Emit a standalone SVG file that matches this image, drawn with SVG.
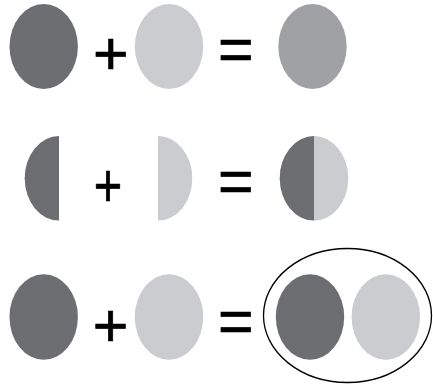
<svg xmlns="http://www.w3.org/2000/svg" width="433" height="385" viewBox="0 0 433 385">
<style>
.dark{fill:#6d6e72}
.light{fill:#cbcccf}
.mid{fill:#a0a1a5}
.op{font-family:"Liberation Sans",Arial,sans-serif;font-size:61px;fill:#000;stroke:#000;stroke-width:0.7;text-anchor:middle}
.ring{fill:none;stroke:#000;stroke-width:1.3}
</style>
<rect width="433" height="385" fill="#fff"/>
<g id="row1">
  <ellipse id="r1-dark" class="dark" cx="43.7" cy="46.5" rx="34.2" ry="42.5"/>
  <text id="r1-plus" class="op" x="110.7" y="73.5">+</text>
  <ellipse id="r1-light" class="light" cx="169" cy="46.5" rx="34.2" ry="42.5"/>
  <text id="r1-eq" class="op" x="235.8" y="69.8">=</text>
  <ellipse id="r1-mix" class="mid" cx="312.5" cy="46.5" rx="34.2" ry="42.5"/>
</g>
<g id="row2">
  <path id="r2-darkhalf" class="dark" d="M59,136 A34.3,42.3 0 0 0 59,220.6 Z"/>
  <text id="r2-plus" class="op" transform="translate(108,206.1) scale(0.8,1)" x="0" y="0">+</text>
  <path id="r2-lighthalf" class="light" d="M158,136 A34.3,42.3 0 0 1 158,220.6 Z"/>
  <text id="r2-eq" class="op" x="235.8" y="202">=</text>
  <g id="r2-joined">
    <path class="dark" d="M314,136 A34.3,42.3 0 0 0 314,220.6 Z"/>
    <path class="light" d="M314,136 A34.3,42.3 0 0 1 314,220.6 Z"/>
  </g>
</g>
<g id="row3">
  <ellipse id="r3-dark" class="dark" cx="43.7" cy="317" rx="34.2" ry="42.8"/>
  <text id="r3-plus" class="op" x="110.5" y="345.8">+</text>
  <ellipse id="r3-light" class="light" cx="169" cy="317" rx="34.2" ry="42.8"/>
  <text id="r3-eq" class="op" x="235.8" y="341.8">=</text>
  <g id="r3-group">
    <ellipse class="ring" cx="347.5" cy="315.5" rx="84" ry="67"/>
    <ellipse class="dark" cx="310" cy="317" rx="34.2" ry="42.8"/>
    <ellipse class="light" cx="385.8" cy="317" rx="34.2" ry="42.8"/>
  </g>
</g>
</svg>
